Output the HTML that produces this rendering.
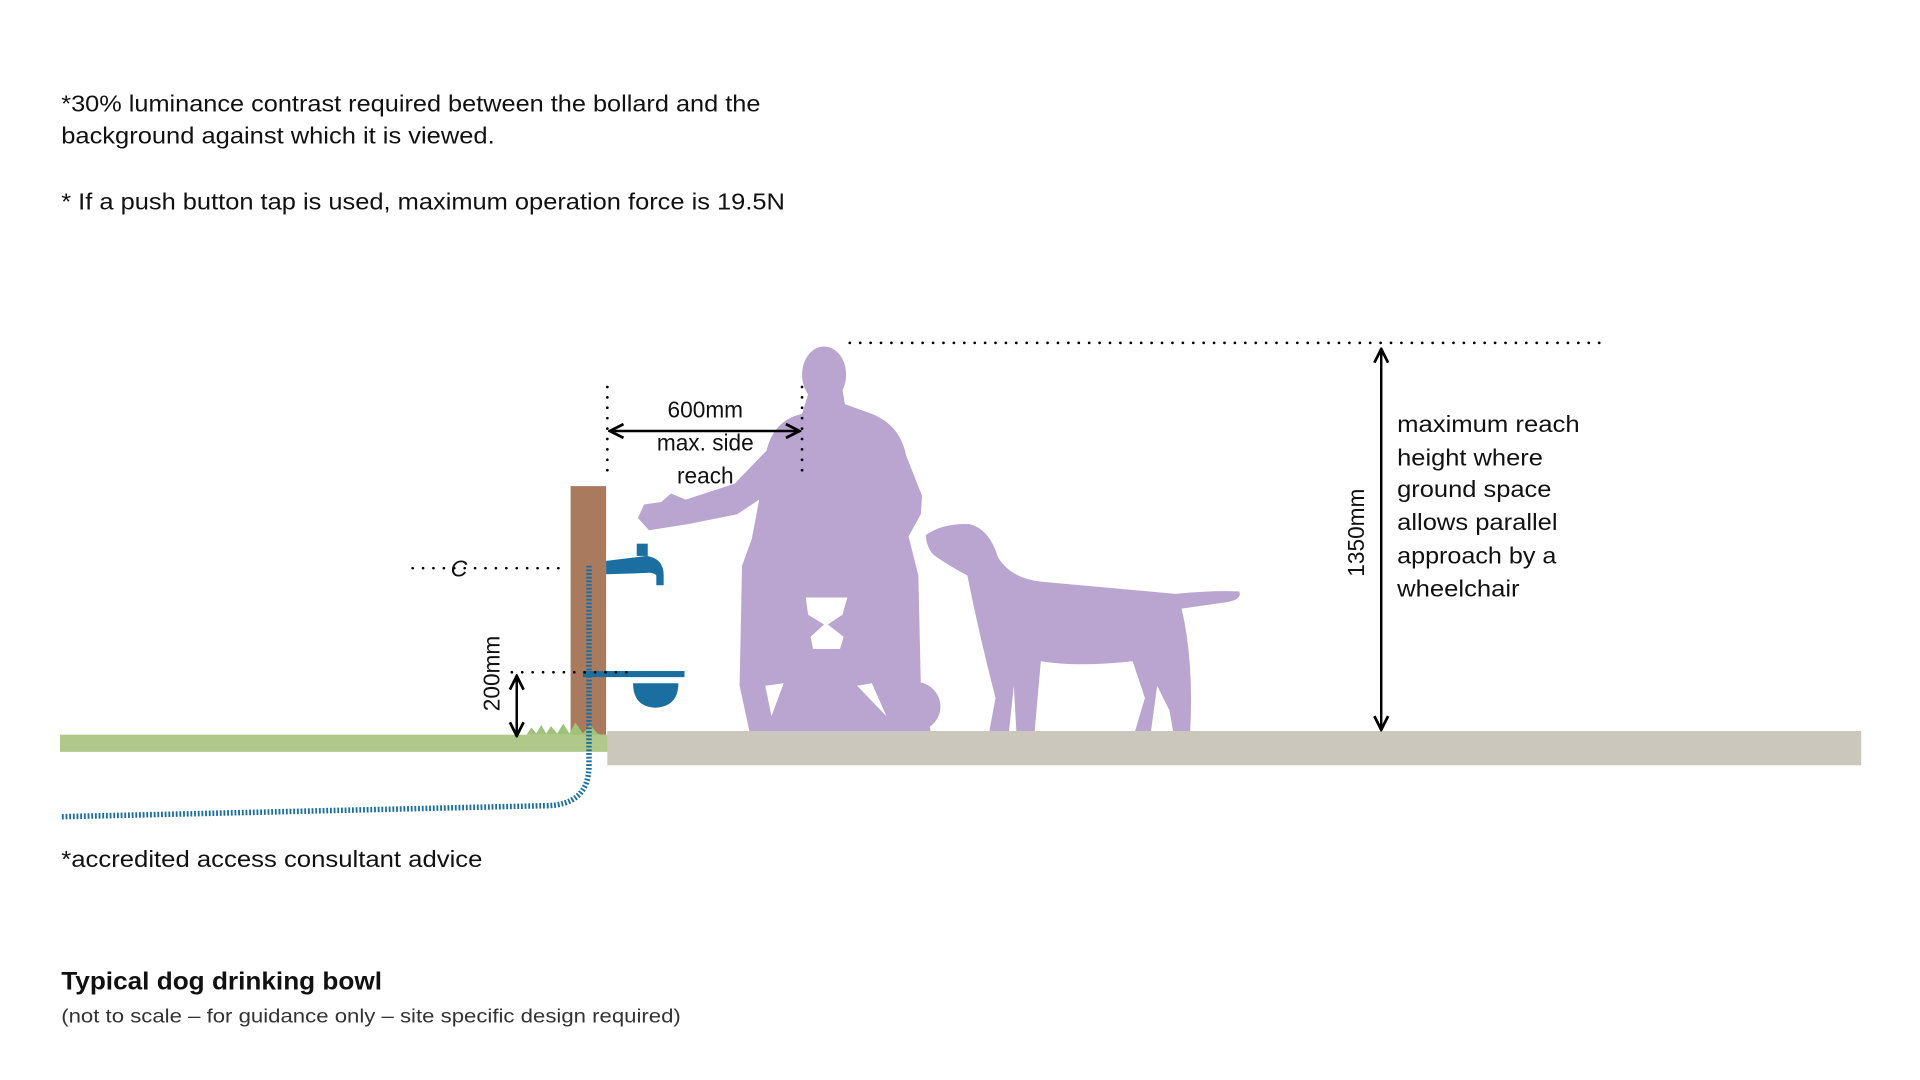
<!DOCTYPE html>
<html><head><meta charset="utf-8"><style>
html,body{margin:0;padding:0;background:#fff;width:1920px;height:1080px;overflow:hidden}
svg{display:block}
text{font-family:"Liberation Sans",sans-serif;fill:#111}
</style></head><body>
<svg width="1920" height="1080" viewBox="0 0 1568 882" preserveAspectRatio="none" xmlns="http://www.w3.org/2000/svg">
<defs>
<marker id="ah" viewBox="0 0 10 10" refX="9" refY="5" markerWidth="7" markerHeight="7" orient="auto-start-reverse"><path d="M1,1 L9,5 L1,9" fill="none" stroke="#000" stroke-width="1.6"/></marker>
</defs>
<text x="50" y="91" font-size="18.5" textLength="571" lengthAdjust="spacingAndGlyphs">*30% luminance contrast required between the bollard and the</text>
<text x="50" y="117" font-size="18.5" textLength="354" lengthAdjust="spacingAndGlyphs">background against which it is viewed.</text>
<text x="50" y="171" font-size="18.5" textLength="591" lengthAdjust="spacingAndGlyphs">* If a push button tap is used, maximum operation force is 19.5N</text>

<!-- ground -->
<rect x="49" y="600" width="448" height="14" fill="#b0c88a"/>
<rect x="496" y="597" width="1024" height="28" fill="#cbc7bd"/>
<!-- bollard -->
<rect x="466" y="397" width="29" height="203" fill="#a97a5e"/>
<path d="M430,600 L434,594 L438,599 L442,592 L446,599 L450,593 L455,599 L460,591 L465,599 L470,590 L476,599 L482,592 L488,599 L492,600 Z" fill="#9fc27a"/>
<!-- pipe -->
<path d="M481,462 L481,625 Q481,658 445,658 L49,667" fill="none" stroke="#1a6fa0" stroke-width="4.5" stroke-dasharray="1.5,1.5"/>
<!-- tap -->
<rect x="520" y="444" width="9" height="10" fill="#1a6fa0"/>
<path d="M495,458 L528,454 Q542,456 542,470 L542,478 L536,478 L536,470 Q534,467 526,468 L495,469 Z" fill="#1a6fa0"/>
<!-- bowl -->
<rect x="476" y="548" width="83" height="5" fill="#1a6fa0"/>
<path d="M517,558 L554,558 Q554,577 535,578 Q517,577 517,558 Z" fill="#1a6fa0"/>

<!-- person -->
<g fill="#b9a5d0">
<ellipse cx="673" cy="306" rx="18" ry="23"/>
<path d="M660,322 L655,338 Q632,343 626,368 L600,395 L560,408 L548,403 L540,410 L526,412 L521,423 L530,433 L562,428 L602,420 L620,408 L614,440 L606,462 L604,560 L612,597 L760,597 L752,560 L750,470 L742,438 L752,420 L753,405 L740,372 Q735,347 712,338 L690,330 L688,318 Z"/>
<circle cx="748" cy="577" r="20"/>
</g>
<g fill="#fff">
<path d="M658,488 L692,488 L688,502 L676,510 L689,520 L686,530 L664,530 L662,520 L673,510 L660,502 Z"/>
<path d="M625,560 L640,558 L630,585 Z"/>
<path d="M700,560 L712,558 L724,585 Z"/>
</g>
<!-- dog -->
<path fill="#b9a5d0" d="M756,437 Q770,427 792,428 Q808,432 815,455 Q825,472 850,475 L960,485 Q990,482 1012,483 Q1015,490 1000,492 L965,497 Q975,540 972,597 L958,597 L955,580 L945,560 L940,597 L927,597 L935,570 L925,540 Q880,545 850,540 L845,597 L830,597 L828,560 L824,597 L808,597 L813,570 Q800,520 790,470 Q775,462 765,455 Q757,450 756,437 Z"/>

<!-- dimensions -->
<g stroke="#000" stroke-width="2.2" stroke-linecap="round" stroke-dasharray="0,8.5" fill="none">
<line x1="337" y1="464" x2="460" y2="464"/>
<line x1="418" y1="549" x2="515" y2="549"/>
<line x1="496" y1="316" x2="496" y2="386"/>
<line x1="655" y1="316" x2="655" y2="386"/>
<line x1="694" y1="280" x2="1310" y2="280"/>
</g>
<text x="368" y="471" font-size="19" font-style="italic">C</text>
<line x1="422" y1="552" x2="422" y2="601" stroke="#000" stroke-width="2" marker-start="url(#ah)" marker-end="url(#ah)"/>
<text transform="translate(408,550) rotate(-90)" font-size="18.5" text-anchor="middle">200mm</text>
<line x1="498" y1="352" x2="653" y2="352" stroke="#000" stroke-width="2" marker-start="url(#ah)" marker-end="url(#ah)"/>
<text x="576" y="341" font-size="18.5" text-anchor="middle">600mm</text>
<text x="576" y="368" font-size="18.5" text-anchor="middle">max. side</text>
<text x="576" y="395" font-size="18.5" text-anchor="middle">reach</text>
<line x1="1128" y1="285" x2="1128" y2="596" stroke="#000" stroke-width="2" marker-start="url(#ah)" marker-end="url(#ah)"/>
<text transform="translate(1114,435) rotate(-90)" font-size="18.5" text-anchor="middle">1350mm</text>
<g font-size="18.5">
<text x="1141" y="353" textLength="149" lengthAdjust="spacingAndGlyphs">maximum reach</text>
<text x="1141" y="380" textLength="119" lengthAdjust="spacingAndGlyphs">height where</text>
<text x="1141" y="406" textLength="126" lengthAdjust="spacingAndGlyphs">ground space</text>
<text x="1141" y="433" textLength="131" lengthAdjust="spacingAndGlyphs">allows parallel</text>
<text x="1141" y="460" textLength="130" lengthAdjust="spacingAndGlyphs">approach by a</text>
<text x="1141" y="487" textLength="100" lengthAdjust="spacingAndGlyphs">wheelchair</text>
</g>
<text x="50" y="708" font-size="18.5" textLength="344" lengthAdjust="spacingAndGlyphs">*accredited access consultant advice</text>
<text x="50" y="808" font-size="20.5" font-weight="bold" textLength="262" lengthAdjust="spacingAndGlyphs">Typical dog drinking bowl</text>
<text x="50" y="835" font-size="16" style="fill:#333" textLength="506" lengthAdjust="spacingAndGlyphs">(not to scale – for guidance only – site specific design required)</text>
</svg>
</body></html>
